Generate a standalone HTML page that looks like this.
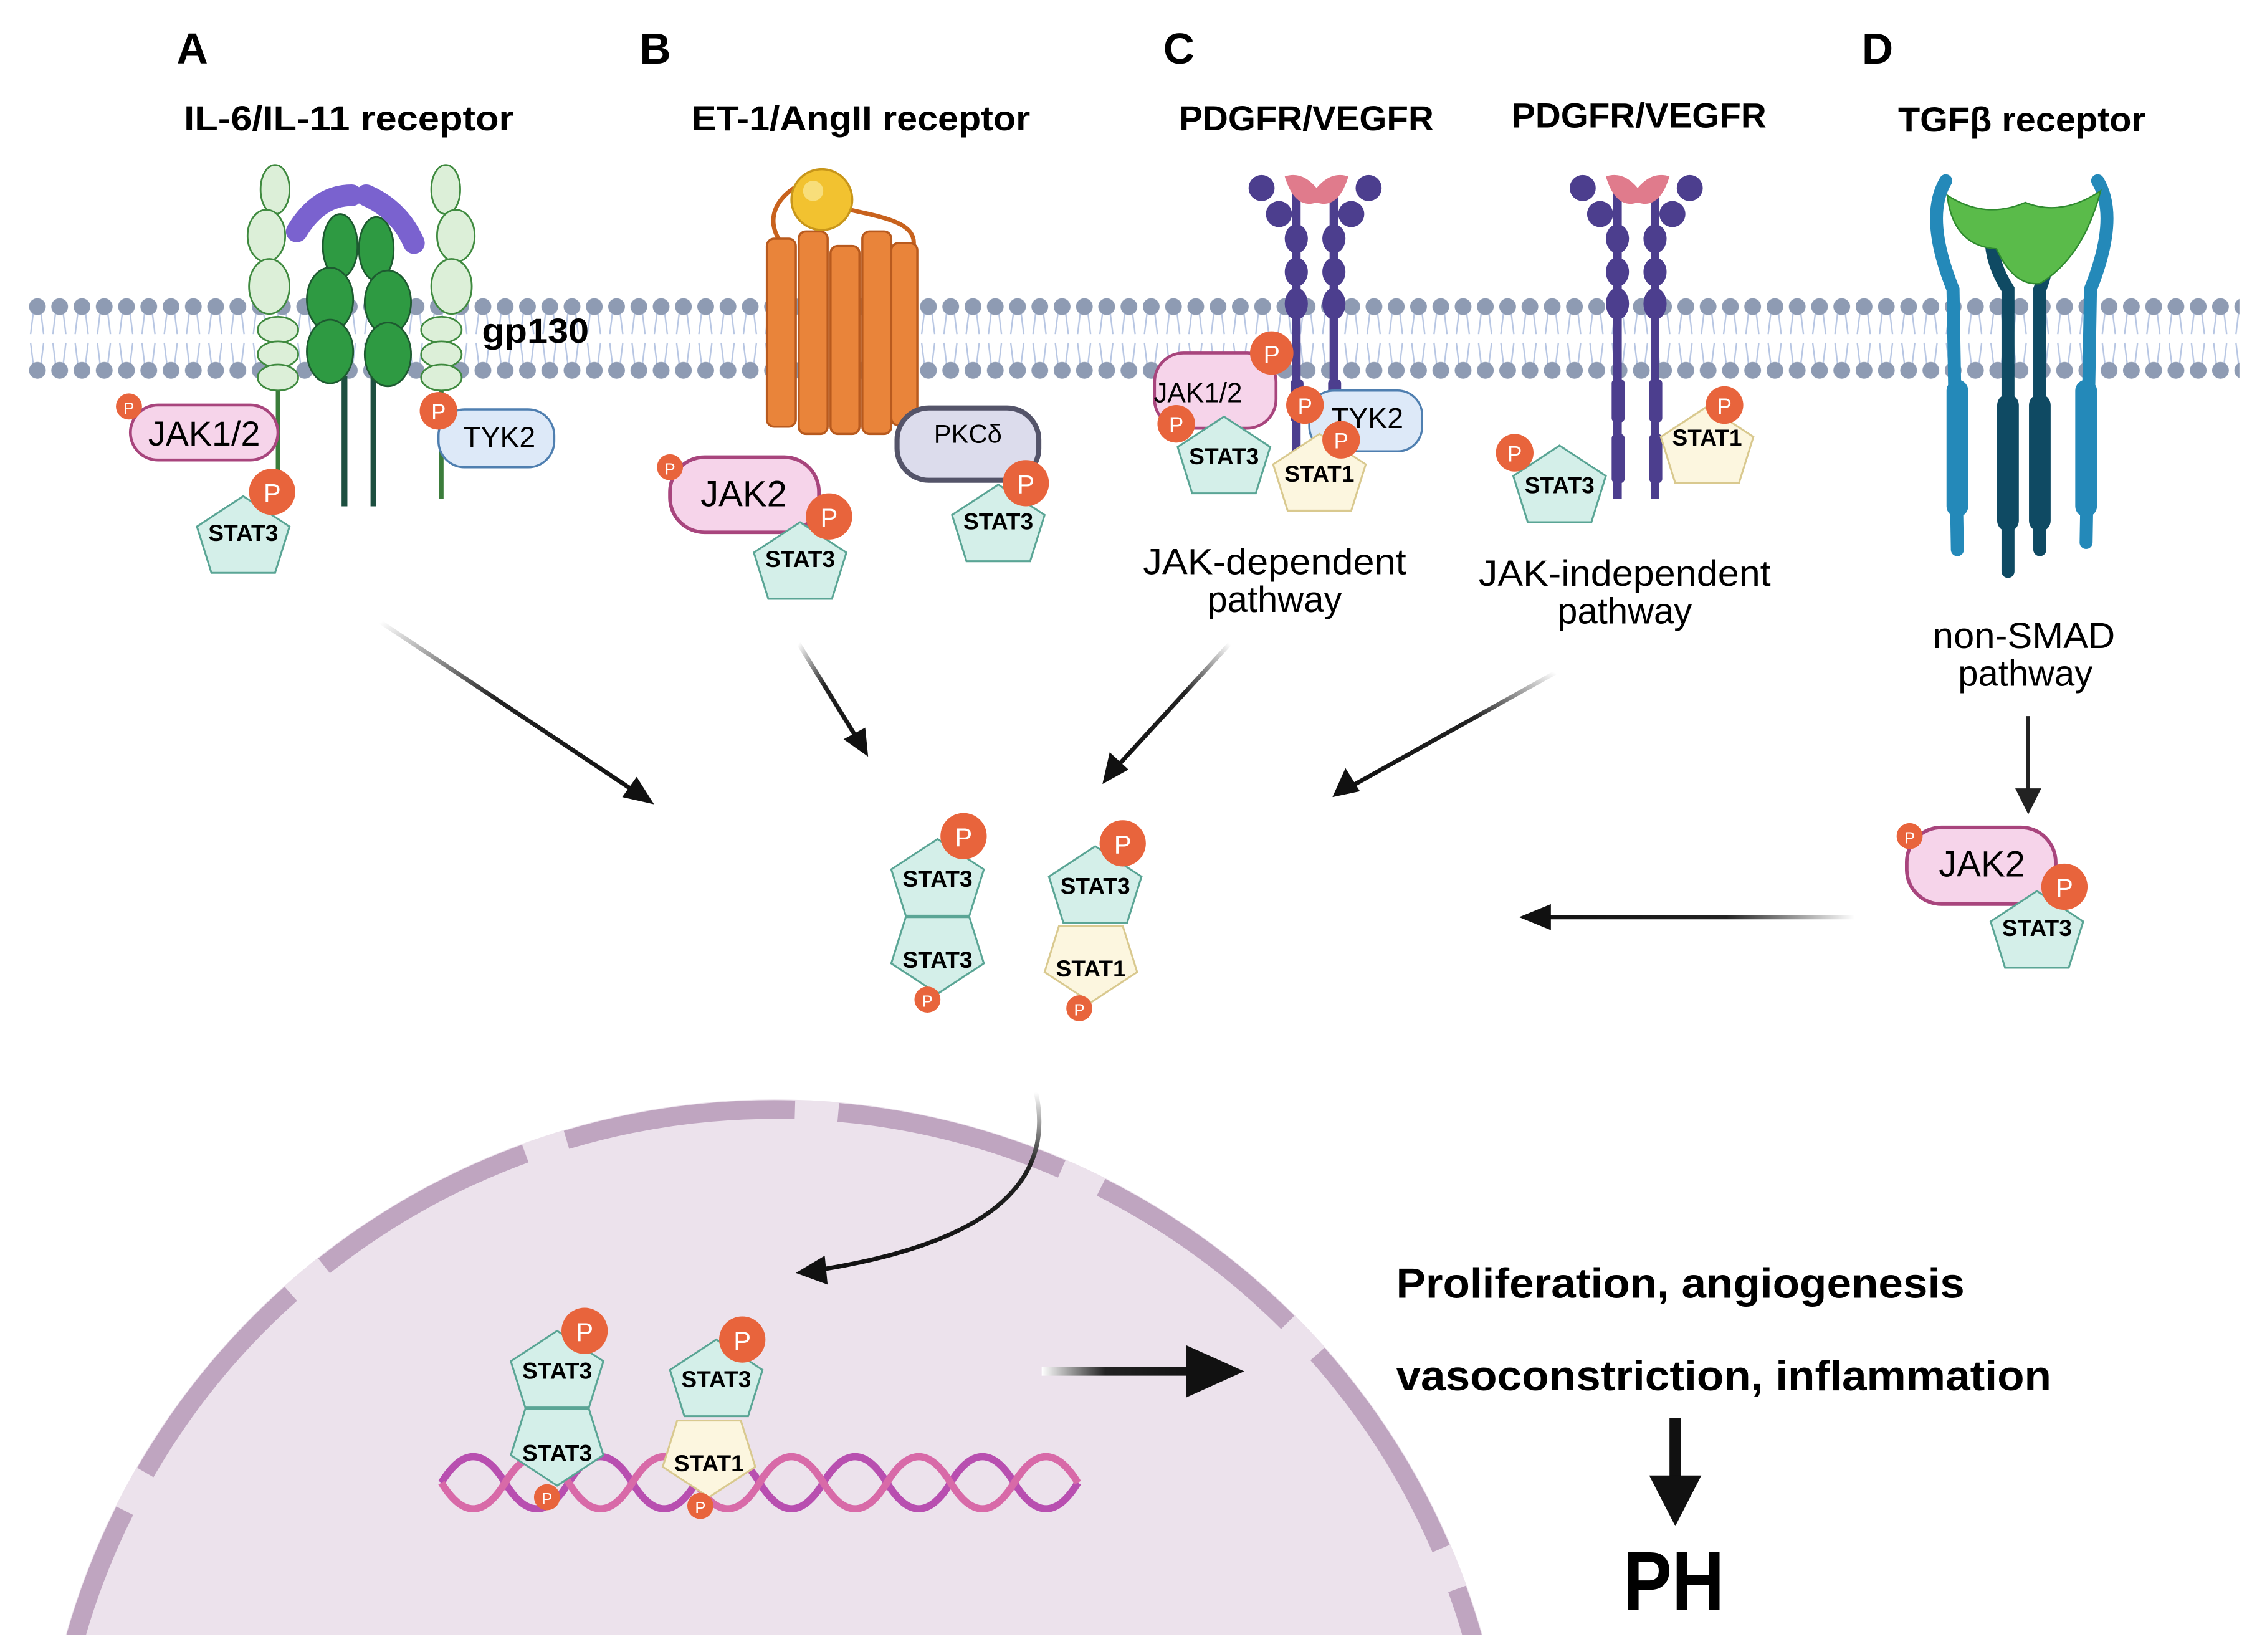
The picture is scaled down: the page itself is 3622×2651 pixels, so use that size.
<!DOCTYPE html>
<html><head><meta charset="utf-8"><style>
html,body{margin:0;padding:0;background:#fff;width:3622px;height:2651px;overflow:hidden;}
svg{display:block;}
text{font-family:"Liberation Sans",sans-serif;}
</style></head><body>
<svg width="3622" height="2651" viewBox="0 0 1560 1142" xmlns="http://www.w3.org/2000/svg" style="overflow:hidden">
<defs>
<pattern id="lip" x="18" y="203" width="15.4" height="62" patternUnits="userSpaceOnUse">
<path d="M5,12 L3,28 M10,12 L12,28 M3,34 L5,50 M12,34 L10,50" stroke="#b7c6e3" stroke-width="1" fill="none"/>
<circle cx="7.7" cy="9" r="5.8" fill="#8e9bb3"/>
<circle cx="7.7" cy="53" r="5.8" fill="#8e9bb3"/>
</pattern>
<linearGradient id="gA" x1="0" y1="0" x2="1" y2="1"><stop offset="0" stop-color="#fff"/><stop offset="0.45" stop-color="#222"/><stop offset="1" stop-color="#111"/></linearGradient>
<linearGradient id="gR" x1="1" y1="0" x2="0" y2="1"><stop offset="0" stop-color="#fff"/><stop offset="0.4" stop-color="#222"/><stop offset="1" stop-color="#111"/></linearGradient>
<linearGradient id="gD" x1="0" y1="0" x2="0" y2="1"><stop offset="0" stop-color="#fff"/><stop offset="0.4" stop-color="#222"/><stop offset="1" stop-color="#111"/></linearGradient>
<linearGradient id="gL" gradientUnits="userSpaceOnUse" x1="1282" y1="0" x2="1060" y2="0"><stop offset="0" stop-color="#fff"/><stop offset="0.4" stop-color="#222"/><stop offset="1" stop-color="#111"/></linearGradient>
<linearGradient id="gH" gradientUnits="userSpaceOnUse" x1="720" y1="0" x2="830" y2="0"><stop offset="0" stop-color="#fff"/><stop offset="0.4" stop-color="#222"/><stop offset="1" stop-color="#111"/></linearGradient>
<clipPath id="nc"><rect x="0" y="0" width="1560" height="1130"/></clipPath>
</defs>
<rect width="1560" height="1142" fill="#fff"/>

<g clip-path="url(#nc)">
<circle cx="535" cy="1269" r="509" fill="#ece2ec"/>
<circle cx="535" cy="1269" r="502" fill="none" stroke="#bfa5c0" stroke-width="13" stroke-dasharray="160 30" stroke-dashoffset="60"/>
</g>

<rect x="18" y="203" width="1530" height="62" fill="url(#lip)"/>

<g font-size="30" font-weight="bold">
<text x="122" y="44">A</text><text x="442" y="44">B</text><text x="804" y="44">C</text><text x="1287" y="44">D</text>
</g>
<g font-size="24" font-weight="bold">
<text x="127" y="90" textLength="228" lengthAdjust="spacingAndGlyphs">IL-6/IL-11 receptor</text>
<text x="478" y="90" textLength="234" lengthAdjust="spacingAndGlyphs">ET-1/AngII receptor</text>
<text x="815" y="90" textLength="176" lengthAdjust="spacingAndGlyphs">PDGFR/VEGFR</text>
<text x="1045" y="88" textLength="176" lengthAdjust="spacingAndGlyphs">PDGFR/VEGFR</text>
<text x="1312" y="91" textLength="171" lengthAdjust="spacingAndGlyphs">TGFβ receptor</text>
</g>

<g stroke="#3f8a3f" stroke-width="1.2" fill="#dcefd8">
<line x1="192" y1="260" x2="192" y2="345" stroke="#3b7d3b" stroke-width="3"/>
<line x1="305" y1="260" x2="305" y2="345" stroke="#3b7d3b" stroke-width="3"/>
<ellipse cx="190" cy="131" rx="10" ry="17"/><ellipse cx="184" cy="163" rx="13" ry="18"/><ellipse cx="186" cy="198" rx="14" ry="19"/>
<ellipse cx="192" cy="228" rx="14" ry="9"/><ellipse cx="192" cy="245" rx="14" ry="9"/><ellipse cx="192" cy="261" rx="14" ry="9"/>
<ellipse cx="308" cy="131" rx="10" ry="17"/><ellipse cx="315" cy="163" rx="13" ry="18"/><ellipse cx="312" cy="198" rx="14" ry="19"/>
<ellipse cx="305" cy="228" rx="14" ry="9"/><ellipse cx="305" cy="245" rx="14" ry="9"/><ellipse cx="305" cy="261" rx="14" ry="9"/>
</g>
<line x1="238" y1="260" x2="238" y2="350" stroke="#1d4f40" stroke-width="4"/>
<line x1="258" y1="260" x2="258" y2="350" stroke="#1d4f40" stroke-width="4"/>
<g fill="#2e9a42" stroke="#1d5a30" stroke-width="1.2">
<ellipse cx="235" cy="170" rx="12" ry="22"/><ellipse cx="228" cy="207" rx="16" ry="22"/><ellipse cx="228" cy="243" rx="16" ry="22"/>
<ellipse cx="260" cy="172" rx="12" ry="22"/><ellipse cx="268" cy="209" rx="16" ry="22"/><ellipse cx="268" cy="245" rx="16" ry="22"/>
</g>
<path d="M205,160 Q220,135 243,135" stroke="#7a62cf" stroke-width="15" stroke-linecap="round" fill="none"/>
<path d="M253,135 Q276,145 286,168" stroke="#7a62cf" stroke-width="15" stroke-linecap="round" fill="none"/>
<text x="333" y="237" font-size="24" font-weight="bold" textLength="74" lengthAdjust="spacingAndGlyphs">gp130</text>

<path d="M568,140 C600,150 640,150 630,175 M540,168 C520,140 560,120 568,125" stroke="#c8621d" stroke-width="3" fill="none"/>
<g fill="#e9843a" stroke="#b85a1e" stroke-width="1.5">
<rect x="530" y="165" width="20" height="130" rx="5"/><rect x="552" y="160" width="20" height="140" rx="5"/>
<rect x="574" y="170" width="20" height="130" rx="5"/><rect x="596" y="160" width="20" height="140" rx="5"/>
<rect x="616" y="168" width="18" height="126" rx="5"/>
</g>
<circle cx="568" cy="138" r="21" fill="#f2c230" stroke="#c8961a" stroke-width="1.5"/>
<circle cx="562" cy="132" r="7" fill="#f8de7a"/>

<g>
<line x1="896" y1="130" x2="896" y2="345" stroke="#4c3e8e" stroke-width="6"/>
<line x1="922" y1="130" x2="922" y2="345" stroke="#4c3e8e" stroke-width="6"/>
<g fill="#4c3e8e">
<circle cx="872" cy="130" r="9"/><circle cx="946" cy="130" r="9"/><circle cx="884" cy="148" r="9"/><circle cx="934" cy="148" r="9"/>
<ellipse cx="896" cy="165" rx="8" ry="10"/><ellipse cx="922" cy="165" rx="8" ry="10"/>
<ellipse cx="896" cy="188" rx="8" ry="10"/><ellipse cx="922" cy="188" rx="8" ry="10"/>
<ellipse cx="896" cy="210" rx="8" ry="11"/><ellipse cx="922" cy="210" rx="8" ry="11"/>
<rect x="892" y="262" width="9" height="30" rx="3"/><rect x="918" y="262" width="9" height="30" rx="3"/>
</g>
<path d="M888,122 Q895,145 910,140 Q925,145 932,122 Q920,118 910,130 Q900,118 888,122Z" fill="#e07b8c"/>
</g>
<g transform="translate(222,0)">
<line x1="896" y1="130" x2="896" y2="345" stroke="#4c3e8e" stroke-width="6"/>
<line x1="922" y1="130" x2="922" y2="345" stroke="#4c3e8e" stroke-width="6"/>
<g fill="#4c3e8e">
<circle cx="872" cy="130" r="9"/><circle cx="946" cy="130" r="9"/><circle cx="884" cy="148" r="9"/><circle cx="934" cy="148" r="9"/>
<ellipse cx="896" cy="165" rx="8" ry="10"/><ellipse cx="922" cy="165" rx="8" ry="10"/>
<ellipse cx="896" cy="188" rx="8" ry="10"/><ellipse cx="922" cy="188" rx="8" ry="10"/>
<ellipse cx="896" cy="210" rx="8" ry="11"/><ellipse cx="922" cy="210" rx="8" ry="11"/>
<rect x="892" y="262" width="9" height="30" rx="3"/><rect x="918" y="262" width="9" height="30" rx="3"/>
<rect x="892" y="300" width="9" height="34" rx="3"/><rect x="918" y="300" width="9" height="34" rx="3"/>
</g>
<path d="M888,122 Q895,145 910,140 Q925,145 932,122 Q920,118 910,130 Q900,118 888,122Z" fill="#e07b8c"/>
</g>

<g stroke-linecap="round" fill="none">
<path d="M1345,125 Q1330,150 1350,200 L1353,380" stroke="#2489b9" stroke-width="9"/>
<path d="M1450,125 Q1465,150 1445,200 L1442,375" stroke="#2489b9" stroke-width="9"/>
<path d="M1378,150 Q1372,175 1388,200 L1388,395" stroke="#0f4a63" stroke-width="9"/>
<path d="M1412,150 Q1420,175 1410,200 L1410,380" stroke="#0f4a63" stroke-width="9"/>
<line x1="1353" y1="270" x2="1353" y2="350" stroke="#2489b9" stroke-width="15"/>
<line x1="1442" y1="270" x2="1442" y2="350" stroke="#2489b9" stroke-width="15"/>
<line x1="1388" y1="280" x2="1388" y2="360" stroke="#0f4a63" stroke-width="15"/>
<line x1="1410" y1="280" x2="1410" y2="360" stroke="#0f4a63" stroke-width="15"/>
</g>
<path d="M1346,135 Q1350,170 1380,172 Q1392,198 1410,196 Q1440,178 1452,132 Q1425,150 1400,140 Q1372,152 1346,135Z" fill="#5abb4a" stroke="#2f8a2f"/>

<rect x="90" y="280" width="102" height="38" rx="19" fill="#f6d4ea" stroke="#a8457d" stroke-width="2"/>
<text x="141" y="308" font-size="24" text-anchor="middle">JAK1/2</text>
<circle cx="89" cy="281" r="9" fill="#e8643c"/><text x="89" y="286" font-size="11" fill="#fff" text-anchor="middle">P</text>
<rect x="303" y="283" width="80" height="40" rx="18" fill="#dde9f8" stroke="#4f7fb0" stroke-width="1.5"/>
<text x="345" y="309" font-size="20" text-anchor="middle">TYK2</text>
<circle cx="303" cy="284" r="13" fill="#e8643c"/><text x="303" y="290" font-size="15" fill="#fff" text-anchor="middle">P</text>
<g transform="translate(168,370)"><polygon points="0,-27 32,-6 22,26 -22,26 -32,-6" fill="#d4efe9" stroke="#5aa595" stroke-width="1.3"/><text y="4" font-size="16" font-weight="bold" text-anchor="middle">STAT3</text></g>
<circle cx="188" cy="340" r="16" fill="#e8643c"/><text x="188" y="347" font-size="18" fill="#fff" text-anchor="middle">P</text>

<rect x="463" y="316" width="103" height="52" rx="24" fill="#f6d4ea" stroke="#a8457d" stroke-width="2.5"/>
<text x="514" y="350" font-size="25" text-anchor="middle">JAK2</text>
<circle cx="463" cy="323" r="9" fill="#e8643c"/><text x="463" y="328" font-size="11" fill="#fff" text-anchor="middle">P</text>
<g transform="translate(553,388)"><polygon points="0,-27 32,-6 22,26 -22,26 -32,-6" fill="#d4efe9" stroke="#5aa595" stroke-width="1.3"/><text y="4" font-size="16" font-weight="bold" text-anchor="middle">STAT3</text></g>
<circle cx="573" cy="357" r="16" fill="#e8643c"/><text x="573" y="364" font-size="18" fill="#fff" text-anchor="middle">P</text>
<rect x="620" y="282" width="98" height="50" rx="22" fill="#dcdcec" stroke="#545469" stroke-width="3.5"/>
<text x="669" y="306" font-size="18" text-anchor="middle">PKCδ</text>
<g transform="translate(690,362)"><polygon points="0,-27 32,-6 22,26 -22,26 -32,-6" fill="#d4efe9" stroke="#5aa595" stroke-width="1.3"/><text y="4" font-size="16" font-weight="bold" text-anchor="middle">STAT3</text></g>
<circle cx="709" cy="334" r="16" fill="#e8643c"/><text x="709" y="341" font-size="18" fill="#fff" text-anchor="middle">P</text>

<rect x="798" y="244" width="84" height="52" rx="20" fill="#f6d4ea" stroke="#a8457d" stroke-width="2"/>
<text x="828" y="278" font-size="19" text-anchor="middle">JAK1/2</text>
<rect x="905" y="270" width="78" height="42" rx="17" fill="#dde9f8" stroke="#4f7fb0" stroke-width="1.5"/>
<text x="945" y="296" font-size="20" text-anchor="middle">TYK2</text>
<g transform="translate(846,315)"><polygon points="0,-27 32,-6 22,26 -22,26 -32,-6" fill="#d4efe9" stroke="#5aa595" stroke-width="1.3"/><text y="6" font-size="16" font-weight="bold" text-anchor="middle">STAT3</text></g>
<g transform="translate(912,327)"><polygon points="0,-27 32,-6 22,26 -22,26 -32,-6" fill="#fcf6df" stroke="#d9c98f" stroke-width="1.3"/><text y="6" font-size="16" font-weight="bold" text-anchor="middle">STAT1</text></g>
<circle cx="879" cy="244" r="15" fill="#e8643c"/><text x="879" y="251" font-size="17" fill="#fff" text-anchor="middle">P</text>
<circle cx="813" cy="293" r="13" fill="#e8643c"/><text x="813" y="299" font-size="15" fill="#fff" text-anchor="middle">P</text>
<circle cx="902" cy="280" r="13" fill="#e8643c"/><text x="902" y="286" font-size="15" fill="#fff" text-anchor="middle">P</text>
<circle cx="927" cy="304" r="13" fill="#e8643c"/><text x="927" y="310" font-size="15" fill="#fff" text-anchor="middle">P</text>
<text x="790" y="397" font-size="25" textLength="182" lengthAdjust="spacingAndGlyphs">JAK-dependent</text>
<text x="881" y="423" font-size="25" text-anchor="middle">pathway</text>

<g transform="translate(1078,335)"><polygon points="0,-27 32,-6 22,26 -22,26 -32,-6" fill="#d4efe9" stroke="#5aa595" stroke-width="1.3"/><text y="6" font-size="16" font-weight="bold" text-anchor="middle">STAT3</text></g>
<circle cx="1047" cy="313" r="13" fill="#e8643c"/><text x="1047" y="319" font-size="15" fill="#fff" text-anchor="middle">P</text>
<g transform="translate(1180,308)"><polygon points="0,-27 32,-6 22,26 -22,26 -32,-6" fill="#fcf6df" stroke="#d9c98f" stroke-width="1.3"/><text y="0" font-size="16" font-weight="bold" text-anchor="middle">STAT1</text></g>
<circle cx="1192" cy="280" r="13" fill="#e8643c"/><text x="1192" y="286" font-size="15" fill="#fff" text-anchor="middle">P</text>
<text x="1022" y="405" font-size="25" textLength="202" lengthAdjust="spacingAndGlyphs">JAK-independent</text>
<text x="1123" y="431" font-size="25" text-anchor="middle">pathway</text>

<text x="1336" y="448" font-size="25" textLength="126" lengthAdjust="spacingAndGlyphs">non-SMAD</text>
<text x="1400" y="474" font-size="25" text-anchor="middle">pathway</text>
<line x1="1402" y1="495" x2="1402" y2="550" stroke="#222" stroke-width="2.5"/>
<polygon points="1393,545 1411,545 1402,563" fill="#222"/>
<rect x="1318" y="572" width="103" height="53" rx="24" fill="#f6d4ea" stroke="#a8457d" stroke-width="2.5"/>
<text x="1370" y="606" font-size="25" text-anchor="middle">JAK2</text>
<circle cx="1320" cy="578" r="9" fill="#e8643c"/><text x="1320" y="583" font-size="11" fill="#fff" text-anchor="middle">P</text>
<g transform="translate(1408,643)"><polygon points="0,-27 32,-6 22,26 -22,26 -32,-6" fill="#d4efe9" stroke="#5aa595" stroke-width="1.3"/><text y="4" font-size="16" font-weight="bold" text-anchor="middle">STAT3</text></g>
<circle cx="1427" cy="613" r="16" fill="#e8643c"/><text x="1427" y="620" font-size="18" fill="#fff" text-anchor="middle">P</text>

<line x1="263" y1="430" x2="440" y2="548" stroke="url(#gA)" stroke-width="3"/>
<polygon points="452,556 430,551 440,537" fill="#111"/>
<line x1="552" y1="445" x2="592" y2="510" stroke="url(#gA)" stroke-width="3"/>
<polygon points="600,523 583,511 598,503" fill="#111"/>
<line x1="850" y1="445" x2="772" y2="530" stroke="url(#gR)" stroke-width="3"/>
<polygon points="762,542 767,520 780,532" fill="#111"/>
<line x1="1075" y1="465" x2="935" y2="543" stroke="url(#gR)" stroke-width="3"/>
<polygon points="921,551 930,531 940,547" fill="#111"/>
<line x1="1282" y1="634" x2="1065" y2="634" stroke="url(#gL)" stroke-width="3"/>
<polygon points="1050,634 1072,625 1072,643" fill="#111"/>
<path d="M716,755 C730,820 680,860 565,878" stroke="url(#gD)" stroke-width="3" fill="none"/>
<polygon points="550,880 570,868 572,888" fill="#111"/>
<line x1="720" y1="948" x2="825" y2="948" stroke="url(#gH)" stroke-width="6"/>
<polygon points="860,948 820,930 820,966" fill="#111"/>
<line x1="1158" y1="980" x2="1158" y2="1025" stroke="#111" stroke-width="8"/>
<polygon points="1140,1020 1176,1020 1158,1055" fill="#111"/>

<!-- DNA -->
<path d="M305,1025 q22,-36 44,0 t44,0 t44,0 t44,0 t44,0 t44,0 t44,0 t44,0 t44,0 t44,0" stroke="#b84fb0" stroke-width="5" fill="none"/>
<path d="M305,1025 q22,36 44,0 t44,0 t44,0 t44,0 t44,0 t44,0 t44,0 t44,0 t44,0 t44,0" stroke="#d86aa8" stroke-width="5" fill="none"/>

<g transform="translate(648,607)"><polygon points="0,-27 32,-6 22,26 -22,26 -32,-6" fill="#d4efe9" stroke="#5aa595" stroke-width="1.3"/><text y="6" font-size="16" font-weight="bold" text-anchor="middle">STAT3</text></g>
<g transform="translate(648,660) rotate(180)"><polygon points="0,-27 32,-6 22,26 -22,26 -32,-6" fill="#d4efe9" stroke="#5aa595" stroke-width="1.3"/></g>
<text x="648" y="669" font-size="16" font-weight="bold" text-anchor="middle">STAT3</text>
<circle cx="666" cy="578" r="16" fill="#e8643c"/><text x="666" y="585" font-size="18" fill="#fff" text-anchor="middle">P</text>
<circle cx="641" cy="691" r="9" fill="#e8643c"/><text x="641" y="696" font-size="11" fill="#fff" text-anchor="middle">P</text>
<g transform="translate(757,612)"><polygon points="0,-27 32,-6 22,26 -22,26 -32,-6" fill="#d4efe9" stroke="#5aa595" stroke-width="1.3"/><text y="6" font-size="16" font-weight="bold" text-anchor="middle">STAT3</text></g>
<g transform="translate(754,666) rotate(180)"><polygon points="0,-27 32,-6 22,26 -22,26 -32,-6" fill="#fcf6df" stroke="#d9c98f" stroke-width="1.3"/></g>
<text x="754" y="675" font-size="16" font-weight="bold" text-anchor="middle">STAT1</text>
<circle cx="776" cy="583" r="16" fill="#e8643c"/><text x="776" y="590" font-size="18" fill="#fff" text-anchor="middle">P</text>
<circle cx="746" cy="697" r="9" fill="#e8643c"/><text x="746" y="702" font-size="11" fill="#fff" text-anchor="middle">P</text>

<g transform="translate(385,947)"><polygon points="0,-27 32,-6 22,26 -22,26 -32,-6" fill="#d4efe9" stroke="#5aa595" stroke-width="1.3"/><text y="6" font-size="16" font-weight="bold" text-anchor="middle">STAT3</text></g>
<g transform="translate(385,1000) rotate(180)"><polygon points="0,-27 32,-6 22,26 -22,26 -32,-6" fill="#d4efe9" stroke="#5aa595" stroke-width="1.3"/></g>
<text x="385" y="1010" font-size="16" font-weight="bold" text-anchor="middle">STAT3</text>
<circle cx="404" cy="920" r="16" fill="#e8643c"/><text x="404" y="927" font-size="18" fill="#fff" text-anchor="middle">P</text>
<circle cx="378" cy="1035" r="9" fill="#e8643c"/><text x="378" y="1040" font-size="11" fill="#fff" text-anchor="middle">P</text>
<g transform="translate(495,953)"><polygon points="0,-27 32,-6 22,26 -22,26 -32,-6" fill="#d4efe9" stroke="#5aa595" stroke-width="1.3"/><text y="6" font-size="16" font-weight="bold" text-anchor="middle">STAT3</text></g>
<g transform="translate(490,1008) rotate(180)"><polygon points="0,-27 32,-6 22,26 -22,26 -32,-6" fill="#fcf6df" stroke="#d9c98f" stroke-width="1.3"/></g>
<text x="490" y="1017" font-size="16" font-weight="bold" text-anchor="middle">STAT1</text>
<circle cx="513" cy="926" r="16" fill="#e8643c"/><text x="513" y="933" font-size="18" fill="#fff" text-anchor="middle">P</text>
<circle cx="484" cy="1041" r="9" fill="#e8643c"/><text x="484" y="1046" font-size="11" fill="#fff" text-anchor="middle">P</text>

<text x="965" y="897" font-size="29" font-weight="bold" textLength="393" lengthAdjust="spacingAndGlyphs">Proliferation, angiogenesis</text>
<text x="965" y="961" font-size="29" font-weight="bold" textLength="453" lengthAdjust="spacingAndGlyphs">vasoconstriction, inflammation</text>
<text x="1122" y="1113" font-size="58" font-weight="bold" textLength="70" lengthAdjust="spacingAndGlyphs">PH</text>
</svg>
</body></html>
